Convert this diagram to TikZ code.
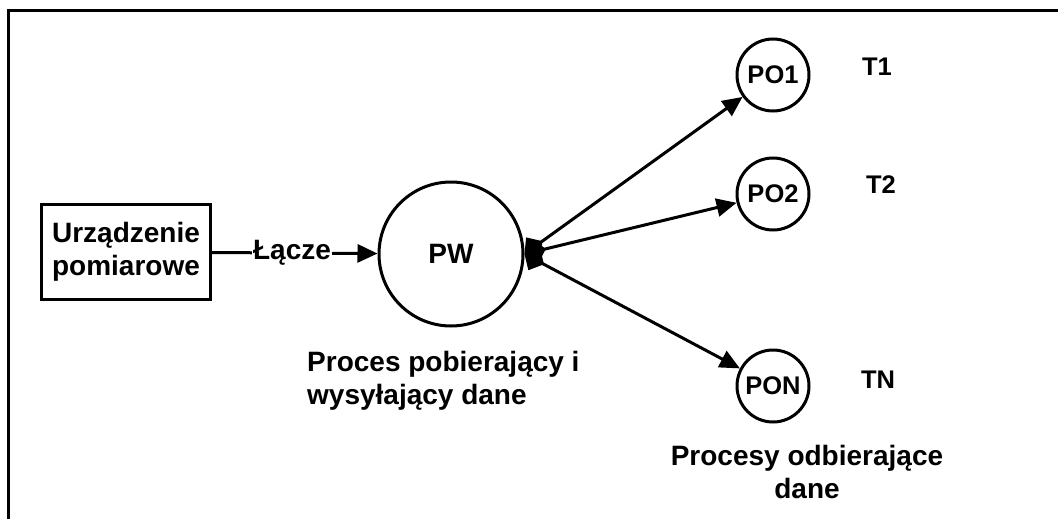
\documentclass[tikz,border=0pt]{standalone}
\usepackage{fontspec}
\setmainfont{Liberation Sans}
\usetikzlibrary{arrows.meta,positioning}

\tikzset{
  lbl/.style={font=\bfseries\fontsize{28}{33}\selectfont, inner sep=1pt},
  proc/.style={lbl, draw, circle, line width=3pt, inner sep=0pt},
  small/.style={font=\bfseries\fontsize{25.5}{30}\selectfont},
  device/.style={lbl, draw, rectangle, line width=3pt, align=center,
    minimum width=169pt, minimum height=95pt},
  conn/.style={line width=3pt, -{Triangle[length=20pt,width=18pt]}},
  fan/.style={line width=3pt,
    {Diamond[length=22pt,width=25pt]}-{Triangle[length=20pt,width=18pt]}},
}

\begin{document}
\begin{tikzpicture}[x=1pt,y=-1pt]
\useasboundingbox (0,0) rectangle (1058,519);

% ramka
\draw[line width=3pt] (8.5,519) -- (8.5,11) -- (1058,11);

% urzadzenie i proces PW
\node[device] (urz) at (126,252) {Urządzenie\\pomiarowe};
\node[lbl] (lacze) at (292,253) {Łącze};
\node[proc, minimum size=144pt] (PW) at (451,254) {PW};

\draw[line width=3pt] (urz) -- (lacze);
\draw[conn] (lacze) -- (PW);

% procesy odbierajace
\node[proc, small, minimum size=72pt] (PO1) at (773,75) {PO1};
\node[proc, small, minimum size=72pt] (PO2) at (773,194) {PO2};
\node[proc, small, minimum size=72pt] (PON) at (773,386) {PON};

\node[lbl, small] (T1) at (877,67) {T1};
\node[lbl, small] (T2) at (881,185) {T2};
\node[lbl, small] (TN) at (878,380) {TN};

\draw[fan] (PW.east) -- (PO1);
\draw[fan] (PW.east) -- (PO2);
\draw[fan] (PW.east) -- (PON);

% opisy
\node[lbl, align=left, anchor=west] (opisPW) at (306,381)
  {Proces pobierający i\\wysyłający dane};
\node[lbl, align=center] (opisPO) at (807,472)
  {Procesy odbierające\\dane};

\end{tikzpicture}
\end{document}
